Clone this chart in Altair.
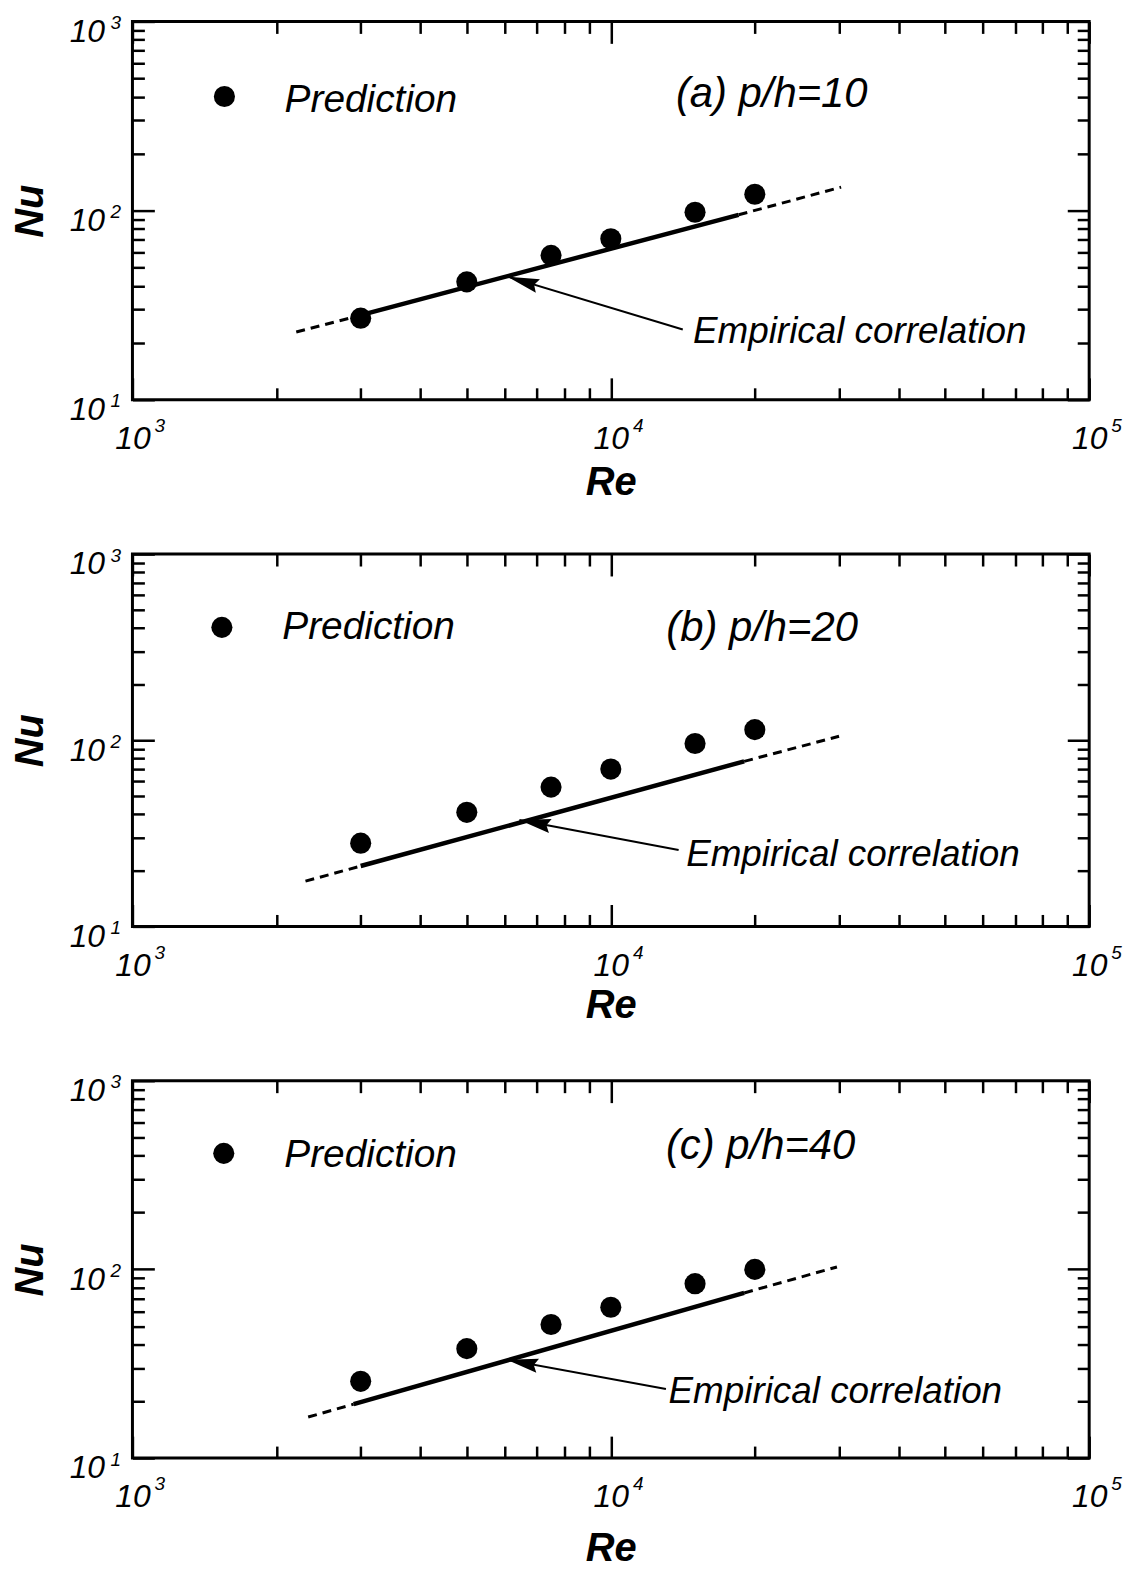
import altair as alt
import pandas as pd

FONT = "Liberation Sans"
W = 961

# ---- data ----
re_pred = [3000, 5000, 7500, 10000, 15000, 20000]
nu_pred_a = [27, 42, 58, 71, 98, 122]
nu_pred_b = [28, 41, 56, 70, 96, 114]
nu_pred_c = [25.5, 38, 51, 63, 84, 100]

# empirical correlation: dashed start, solid start, solid end, dashed end
corr_re_a = [2200, 3000, 18500, 30300]
corr_nu_a = [22.8, 28, 95, 133]
corr_re_b = [2300, 3000, 19000, 30000]
corr_nu_b = [17.5, 21.1, 77, 105]
corr_re_c = [2330, 2900, 19000, 29700]
corr_nu_c = [16.5, 19.3, 75, 103]

# arrow: tail, tip
arrow_re_a = [14140, 6090]
arrow_nu_a = [23.5, 44.7]
arrow_re_b = [13860, 6440]
arrow_nu_b = [25.7, 37.3]
arrow_re_c = [13040, 6060]
arrow_nu_c = [23.2, 33.2]

panel_labels = ["(a) p/h=10", "(b) p/h=20", "(c) p/h=40"]
label_re = [13680, 13060, 13040]
label_nu = [411, 399, 448]
pred_text_re = [2080, 2057, 2077]
pred_text_nu = [382, 404, 402]
legend_dot_re = [1557, 1538, 1552]
legend_dot_nu = [401, 404, 412]
emp_text_re = [14850, 14370, 13200]
emp_text_nu = [22.9, 24.1, 22.3]

x_major = [1000, 10000, 100000]
x_minor = [2000, 3000, 4000, 5000, 6000, 7000, 8000, 9000,
           20000, 30000, 40000, 50000, 60000, 70000, 80000, 90000]
y_major = [10, 100, 1000]
y_minor = [20, 30, 40, 50, 60, 70, 80, 90, 200, 300, 400, 500, 600, 700, 800, 900]

ARROW_PATH = "M 0 0 L 2 -0.45 L 1.75 0 L 2 0.45 Z"


def xs():
    return alt.Scale(type="log", domain=[1000, 100000], nice=False)


def ys():
    return alt.Scale(type="log", domain=[10, 1000], nice=False)


def tick_axis(orient, values, size, offset):
    return alt.Axis(orient=orient, offset=offset, values=values, tickSize=size,
                    tickWidth=2.5, tickColor="black", labels=False, domain=False,
                    grid=False, ticks=True)


def panel(i, nu_pred, corr_re, corr_nu, arrow_re, arrow_nu, angle, H, re_pad):
    pred = pd.DataFrame({"Re": re_pred, "Nu": nu_pred})
    solid = pd.DataFrame({"Re": corr_re[1:3], "Nu": corr_nu[1:3]})
    dashed = pd.DataFrame({
        "Re": [corr_re[0], corr_re[1], corr_re[2], corr_re[3]],
        "Nu": [corr_nu[0], corr_nu[1], corr_nu[2], corr_nu[3]],
        "seg": ["l", "l", "r", "r"],
    })
    arrow = pd.DataFrame({"Re": arrow_re, "Nu": arrow_nu})
    tip = pd.DataFrame({"Re": [arrow_re[1]], "Nu": [arrow_nu[1]]})
    texts = pd.DataFrame({
        "Re": [label_re[i], pred_text_re[i], emp_text_re[i]],
        "Nu": [label_nu[i], pred_text_nu[i], emp_text_nu[i]],
        "t": [panel_labels[i], "Prediction", "Empirical correlation"],
        "fs": [42, 39, 37],
    })
    dot = pd.DataFrame({"Re": [legend_dot_re[i]], "Nu": [legend_dot_nu[i]]})

    # main labelled axes
    x_main = alt.Axis(orient="bottom", values=x_major, labelExpr="'10'", ticks=False,
                      tickSize=0, domain=False, grid=False, labelFont=FONT,
                      labelFontStyle="italic", labelFontSize=32, labelPadding=24,
                      labelBaseline="top", labelColor="black", labelFlush=False,
                      labelOverlap=False, titleFont=FONT, titleFontSize=40,
                      titleFontWeight="bold", titleFontStyle="italic",
                      titleColor="black", titlePadding=re_pad)
    y_main = alt.Axis(orient="left", values=y_major, labelExpr="'10'", ticks=False,
                      tickSize=0, domain=False, grid=False, labelFont=FONT,
                      labelFontStyle="italic", labelFontSize=32, labelPadding=28,
                      labelOffset=10, labelBaseline="middle", labelAlign="right",
                      labelColor="black", labelFlush=False, labelOverlap=False,
                      titleFont=FONT, titleFontSize=40, titleFontWeight="bold",
                      titleFontStyle="italic", titleColor="black", titlePadding=19)
    expo = "format(round(log(datum.value)/LN10),'d')"
    x_exp = alt.Axis(orient="bottom", values=x_major, labelExpr=expo, ticks=False,
                     tickSize=0, domain=False, grid=False, labelFont=FONT,
                     labelFontStyle="italic", labelFontSize=19, labelPadding=17,
                     labelOffset=27, labelBaseline="top", labelColor="black",
                     labelFlush=False, labelOverlap=False)
    y_exp = alt.Axis(orient="left", values=y_major, labelExpr=expo, ticks=False,
                     tickSize=0, domain=False, grid=False, labelFont=FONT,
                     labelFontStyle="italic", labelFontSize=19, labelPadding=12,
                     labelOffset=1, labelBaseline="middle", labelAlign="right",
                     labelColor="black", labelFlush=False, labelOverlap=False)

    pts = alt.Chart(pred).mark_circle(size=450, color="black", opacity=1).encode(
        x=alt.X("Re:Q", scale=xs(), axis=x_main, title="Re"),
        y=alt.Y("Nu:Q", scale=ys(), axis=y_main, title="Nu"),
    )
    sol = alt.Chart(solid).mark_line(color="black", strokeWidth=4.5).encode(
        x=alt.X("Re:Q", scale=xs(), axis=x_exp, title=None),
        y=alt.Y("Nu:Q", scale=ys(), axis=y_exp, title=None),
    )
    dsh = alt.Chart(dashed).mark_line(color="black", strokeWidth=3,
                                      strokeDash=[9, 6]).encode(
        x=alt.X("Re:Q", scale=xs(), axis=tick_axis("top", x_major, 22, -H), title=None),
        y=alt.Y("Nu:Q", scale=ys(), axis=tick_axis("right", y_major, 22, -W), title=None),
        detail="seg:N",
    )
    arr = alt.Chart(arrow).mark_line(color="black", strokeWidth=2).encode(
        x=alt.X("Re:Q", scale=xs(), axis=tick_axis("top", x_minor, 12, -H), title=None),
        y=alt.Y("Nu:Q", scale=ys(), axis=tick_axis("right", y_minor, 12, -W), title=None),
    )
    head = alt.Chart(tip).mark_point(shape=ARROW_PATH, filled=True, size=1000,
                                     color="black", opacity=1, angle=angle).encode(
        x=alt.X("Re:Q", scale=xs(), axis=tick_axis("bottom", x_major, 22, -H), title=None),
        y=alt.Y("Nu:Q", scale=ys(), axis=tick_axis("left", y_major, 22, -W), title=None),
    )
    txt = alt.Chart(texts).mark_text(align="left", baseline="middle", font=FONT,
                                     fontStyle="italic", color="black").encode(
        x=alt.X("Re:Q", scale=xs(), axis=tick_axis("bottom", x_minor, 12, -H), title=None),
        y=alt.Y("Nu:Q", scale=ys(), axis=tick_axis("left", y_minor, 12, -W), title=None),
        text="t:N",
        size=alt.Size("fs:Q", scale=None, legend=None),
    )
    leg = alt.Chart(dot).mark_circle(size=450, color="black", opacity=1).encode(
        x=alt.X("Re:Q", scale=xs(), axis=None),
        y=alt.Y("Nu:Q", scale=ys(), axis=None),
    )
    return alt.layer(pts, sol, dsh, arr, head, txt, leg).resolve_axis(
        x="independent", y="independent").properties(width=W, height=H)


pa = panel(0, nu_pred_a, corr_re_a, corr_nu_a, arrow_re_a, arrow_nu_a, 17, 380, 8)
pb = panel(1, nu_pred_b, corr_re_b, corr_nu_b, arrow_re_b, arrow_nu_b, 11, 374, 4)
pc = panel(2, nu_pred_c, corr_re_c, corr_nu_c, arrow_re_c, arrow_nu_c, 11, 379, 16)

chart = alt.vconcat(pa, pb, pc, spacing=155, bounds="flush").configure_view(
    stroke="black", strokeWidth=3).properties(
    padding={"left": 0, "top": 0, "right": 5, "bottom": 5})

chart.save("out.html", embed_options={"renderer": "svg", "actions": False})
